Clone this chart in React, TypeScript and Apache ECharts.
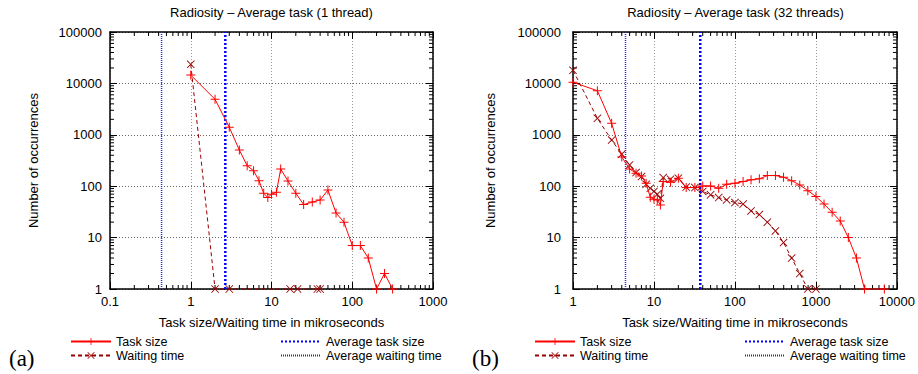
import React, { useEffect, useRef } from "react";
import * as echarts from "echarts";

// ---------- data ----------
const leftTaskX = [1, 2, 3, 4, 5, 6, 7, 8, 9, 10, 11.5, 13, 16, 20, 25, 32, 40, 50, 63, 79, 100, 126, 158, 200, 251, 316];
const leftTaskY = [14500, 4900, 1400, 505, 250, 200, 128, 73, 60, 70, 76, 216, 126, 73, 44, 49, 54, 84, 30, 20, 7, 7, 4, 1, 2, 1];
const leftWaitX = [1, 2, 3, 17, 21, 37, 40];
const leftWaitY = [23500, 1, 1, 1, 1, 1, 1];
const leftAvgTask = 2.68;
const leftAvgWait = 0.435;

const rightTaskX = [1, 2, 3, 4, 5, 6, 7, 8, 9, 10, 11, 12, 13, 16, 20, 25, 32, 40, 50, 63, 79, 100, 126, 158, 200, 251, 316, 398, 501, 631, 794, 1000, 1259, 1585, 1995, 2512, 3162, 3981, 7000];
const rightTaskY = [10500, 7200, 1670, 370, 217, 178, 158, 114, 61, 56, 54, 43, 123, 120, 143, 94, 94, 101, 101, 91, 109, 114, 123, 133, 139, 161, 161, 150, 128, 106, 82, 63, 45, 31, 21, 10, 4, 1, 1];
const rightWaitX = [1, 2, 3, 4, 5, 6, 7, 8, 9, 10, 11, 12, 13, 16, 20, 25, 32, 40, 50, 63, 79, 100, 126, 158, 200, 251, 316, 398, 501, 631, 794, 1000];
const rightWaitY = [18000, 2090, 790, 420, 259, 184, 154, 109, 91, 79, 70, 58, 147, 137, 143, 96, 94, 79, 68, 60, 54, 48, 45, 33, 28, 20, 13.5, 8, 4, 2, 1, 1];
const rightAvgTask = 37.3;
const rightAvgWait = 4.45;

const leftXRange = [0.1, 1000];
const rightXRange = [1, 10000];
const yRange = [1, 100000];

const titles = ["Radiosity \u2013 Average task (1 thread)", "Radiosity \u2013 Average task (32 threads)"];
const xName = "Task size/Waiting time in mikroseconds";
const yName = "Number of occurrences";
const panelLabels = ["(a)", "(b)"];
const legendNames = ["Task size", "Waiting time", "Average task size", "Average waiting time"];

// ---------- styling ----------
const FONT = "'Liberation Sans', Arial, Helvetica, sans-serif";
const RED = "#ff0000";
const DARKRED = "#990000";
const PLUS = "path://M4,0H5V4H9V5H5V9H4V5H0V4H4Z";
const CROSS = "path://M0,0.7L0.7,0L4.5,3.8L8.3,0L9,0.7L5.2,4.5L9,8.3L8.3,9L4.5,5.2L0.7,9L0,8.3L3.8,4.5Z";

function minorTicks(min: number, max: number): number[] {
  const out: number[] = [];
  for (let d = min; d < max * 0.999; d *= 10) {
    for (let k = 2; k <= 9; k++) out.push(Number((d * k).toPrecision(6)));
  }
  return out;
}

const fmt = (v: number) => String(Number(Number(v).toPrecision(8)));

function xAxes(gridIndex: number, range: number[]) {
  const common = {
    type: "log",
    logBase: 10,
    gridIndex,
    min: range[0],
    max: range[1],
    axisLine: { show: true, onZero: false, lineStyle: { color: "#000", width: 1.5 } },
    axisTick: { show: true, inside: true, length: 7, lineStyle: { color: "#000", width: 1 } },
  };
  return [
    {
      ...common,
      position: "bottom",
      axisLabel: { show: true, color: "#000", fontSize: 13, fontFamily: FONT, margin: 6, formatter: fmt },
      splitLine: { show: true, lineStyle: { color: "#999", type: [1, 2], width: 1 } },
      name: xName,
      nameLocation: "middle",
      nameGap: 27,
      nameTextStyle: { color: "#000", fontSize: 13, fontFamily: FONT },
    },
    {
      ...common,
      position: "top",
      axisLabel: { show: false },
      splitLine: { show: false },
    },
  ];
}

function yAxes(gridIndex: number, labelMargin: number, nameGap: number) {
  const common = {
    type: "log",
    logBase: 10,
    gridIndex,
    min: yRange[0],
    max: yRange[1],
    axisLine: { show: true, onZero: false, lineStyle: { color: "#000", width: 1.5 } },
    axisTick: { show: true, inside: true, length: 7, lineStyle: { color: "#000", width: 1 } },
  };
  return [
    {
      ...common,
      position: "left",
      axisLabel: { show: true, color: "#000", fontSize: 13, fontFamily: FONT, margin: labelMargin, formatter: fmt },
      splitLine: { show: true, lineStyle: { color: "#666", type: [1, 2], width: 1 } },
      name: yName,
      nameLocation: "middle",
      nameGap,
      nameRotate: 90,
      nameTextStyle: { color: "#000", fontSize: 13, fontFamily: FONT },
    },
    {
      ...common,
      position: "right",
      axisLabel: { show: false },
      splitLine: { show: false },
    },
  ];
}

function pairs(xs: number[], ys: number[]) {
  return xs.map((x, i) => [x, ys[i]]);
}

function panelSeries(
  xi: number,
  yi: number,
  taskX: number[],
  taskY: number[],
  waitX: number[],
  waitY: number[],
  avgTask: number,
  avgWait: number,
  xr: number[]
) {
  const tickLen = 4;
  const xMinor = minorTicks(xr[0], xr[1]);
  const yMinor = minorTicks(yRange[0], yRange[1]);
  const tickStyle = { stroke: "#000", lineWidth: 1 };
  return [
    {
      type: "line",
      name: "Average waiting time",
      xAxisIndex: xi,
      yAxisIndex: yi,
      data: [[avgWait, yRange[0]], [avgWait, yRange[1]]],
      symbol: "none",
      lineStyle: { color: "#2a2ad0", width: 1.5, type: [1, 1] },
      itemStyle: { color: "#2a2ad0" },
      z: 3,
    },
    {
      type: "line",
      name: "Average task size",
      xAxisIndex: xi,
      yAxisIndex: yi,
      data: [[avgTask, yRange[0]], [avgTask, yRange[1]]],
      symbol: "none",
      lineStyle: { color: "#0000ff", width: 2.5, type: [2, 2] },
      itemStyle: { color: "#0000ff" },
      z: 3,
    },
    {
      type: "line",
      name: "Waiting time",
      xAxisIndex: xi,
      yAxisIndex: yi,
      data: pairs(waitX, waitY),
      symbol: CROSS,
      symbolSize: 8,
      showSymbol: true,
      clip: false,
      lineStyle: { color: DARKRED, width: 1, type: [4, 3] },
      itemStyle: { color: DARKRED },
      z: 4,
    },
    {
      type: "line",
      name: "Task size",
      xAxisIndex: xi,
      yAxisIndex: yi,
      data: pairs(taskX, taskY),
      symbol: PLUS,
      symbolSize: 9,
      showSymbol: true,
      clip: false,
      lineStyle: { color: RED, width: 1 },
      itemStyle: { color: RED },
      z: 5,
    },
    {
      type: "custom",
      name: "xminor",
      xAxisIndex: xi,
      yAxisIndex: yi,
      data: xMinor.map((v) => [v, yRange[0]]),
      clip: false,
      silent: true,
      renderItem: (_p: any, api: any) => {
        const v = api.value(0);
        const b = api.coord([v, yRange[0]]);
        const t = api.coord([v, yRange[1]]);
        return {
          type: "group",
          children: [
            { type: "line", shape: { x1: b[0], y1: b[1], x2: b[0], y2: b[1] - tickLen }, style: tickStyle },
            { type: "line", shape: { x1: t[0], y1: t[1], x2: t[0], y2: t[1] + tickLen }, style: tickStyle },
          ],
        };
      },
      z: 2,
    },
    {
      type: "custom",
      name: "yminor",
      xAxisIndex: xi,
      yAxisIndex: yi,
      data: yMinor.map((v) => [xr[0], v]),
      clip: false,
      silent: true,
      renderItem: (_p: any, api: any) => {
        const v = api.value(1);
        const l = api.coord([xr[0], v]);
        const r = api.coord([xr[1], v]);
        return {
          type: "group",
          children: [
            { type: "line", shape: { x1: l[0], y1: l[1], x2: l[0] + tickLen, y2: l[1] }, style: tickStyle },
            { type: "line", shape: { x1: r[0], y1: r[1], x2: r[0] - tickLen, y2: r[1] }, style: tickStyle },
          ],
        };
      },
      z: 2,
    },
  ];
}

function legend(left: number, names: string[], plain: boolean) {
  return {
    left,
    top: 335,
    orient: "vertical",
    padding: 0,
    itemGap: 1,
    itemWidth: 40,
    itemHeight: 9,
    selectedMode: false,
    data: names.map((n) =>
      plain
        ? { name: n, itemStyle: { opacity: 0, color: "rgba(0,0,0,0)", borderWidth: 0 } }
        : { name: n }
    ),
    textStyle: { color: "#000", fontSize: 12.5, fontFamily: FONT, lineHeight: 13, padding: [0, 0, 0, 0] },
  };
}

export default function App() {
  const ref = useRef<HTMLDivElement>(null);
  useEffect(() => {
    if (!ref.current) return;
    const chart = echarts.init(ref.current, undefined, { renderer: "svg" });
    const option = {
      animation: false,
      backgroundColor: "#fff",
      grid: [
        { left: 110, top: 32, width: 323, height: 257 },
        { left: 573, top: 32, width: 325, height: 257 },
      ],
      xAxis: [...xAxes(0, leftXRange), ...xAxes(1, rightXRange)],
      yAxis: [...yAxes(0, 8, 70), ...yAxes(1, 12, 76)],
      legend: [
        legend(70, [legendNames[0], legendNames[1]], false),
        legend(280, [legendNames[2], legendNames[3]], true),
        legend(534, [legendNames[0], legendNames[1]], false),
        legend(744, [legendNames[2], legendNames[3]], true),
      ],
      series: [
        ...panelSeries(0, 0, leftTaskX, leftTaskY, leftWaitX, leftWaitY, leftAvgTask, leftAvgWait, leftXRange),
        ...panelSeries(2, 2, rightTaskX, rightTaskY, rightWaitX, rightWaitY, rightAvgTask, rightAvgWait, rightXRange),
      ],
      graphic: [
        {
          type: "text",
          x: 271.5,
          y: 12,
          style: { text: titles[0], align: "center", verticalAlign: "middle", fill: "#000", font: `13px ${FONT}` },
        },
        {
          type: "text",
          x: 735.5,
          y: 12,
          style: { text: titles[1], align: "center", verticalAlign: "middle", fill: "#000", font: `13px ${FONT}` },
        },
        {
          type: "text",
          x: 9,
          y: 358,
          style: { text: panelLabels[0], align: "left", verticalAlign: "middle", fill: "#000", font: `23px 'Liberation Serif', 'DejaVu Serif', serif` },
        },
        {
          type: "text",
          x: 472,
          y: 358,
          style: { text: panelLabels[1], align: "left", verticalAlign: "middle", fill: "#000", font: `23px 'Liberation Serif', 'DejaVu Serif', serif` },
        },
      ],
    };
    chart.setOption(option as any);
    return () => chart.dispose();
  }, []);
  return (
    <div
      ref={ref}
      style={{ position: "fixed", left: 0, top: 0, width: 918, height: 374, background: "#fff" }}
    />
  );
}
